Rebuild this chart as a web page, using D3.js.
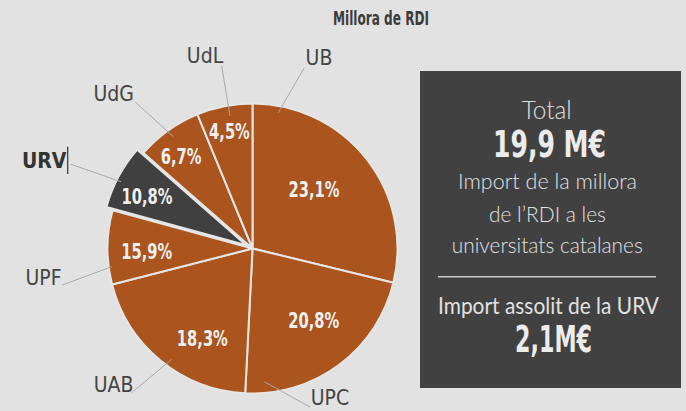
<!DOCTYPE html>
<html>
<head>
<meta charset="utf-8">
<script src="https://cdn.jsdelivr.net/npm/d3@7"></script>
<style>
  html, body { margin: 0; padding: 0; background: #e2e2e2; }
  svg { display: block; }
</style>
</head>
<body>
<svg id="chart" width="686" height="411"></svg>
<script>
// ---------------- data ----------------
const title = "Millora de RDI";
const universities = ["UB", "UPC", "UAB", "UPF", "URV", "UdG", "UdL"];
// slice sizes as drawn in the picture (share of the circle, %)
const sliceShares = [28.8, 22.0, 20.2, 8.25, 7.2, 7.35, 6.2];
// percentages printed on the slices
const printedLabels = ["23,1%", "20,8%", "18,3%", "15,9%", "10,8%", "6,7%", "4,5%"];
const highlighted = "URV";
const panelLines = ["Total", "19,9 M€", "Import de la millora", "de l’RDI a les",
                    "universitats catalanes", "Import assolit de la URV", "2,1M€"];

// ---------------- layout / style ----------------
const W = 686, H = 411;
const cx = 252.5, cy = 248.5, R = 145, explode = 7;
const BROWN = "#ab541d", DARK = "#404040", BG = "#e2e2e2";
const NARROW = "'Liberation Sans Narrow','DejaVu Sans Condensed','Arial Narrow',sans-serif";
const LIGHT = "Lato,'Open Sans',sans-serif";
const PCT_CHAR_W = 10.2; // px per character of the printed percentages

// percentage label placement: radius fraction and angle nudge (deg)
const pctPlace = [
  {rf: 0.590, da: -5.9}, {rf: 0.654, da: -3.5}, {rf: 0.708, da: -10},
  {rf: 0.730, da: -1.9}, {rf: 0.763, da: -2.2}, {rf: 0.803, da: -2.3}, {rf: 0.821, da: 0}
];
// outer name labels (relative to the pie centre): text centre, leader line
const namePlace = {
  UB:  {t: [66.5, -191],  l: [[51.5, -180.2], [25.8, -135.8]]},
  UPC: {t: [77.5, 148.5], l: [[57.5, 158.5], [11.8, 133.2]]},
  UAB: {t: [-139, 135.5], l: [[-120.8, 144.2], [-80.8, 110.8]]},
  UPF: {t: [-209, 29],    l: [[-190.2, 36.5], [-140.8, 18.2]]},
  URV: {t: [-208.3, -88], l: [[-181.5, -84.2], [-131.5, -66.8]]},
  UdG: {t: [-138.8, -155.5], l: [[-117.5, -146.8], [-79.2, -111.8]]},
  UdL: {t: [-47.5, -193.5],  l: [[-30.8, -182.5], [-22.5, -132.5]]}
};
const panelBox = {x: 420, y: 71, w: 261, h: 317};
const panelStyle = [
  {x: 546.7, y: 119.3, size: 25, font: LIGHT, weight: 300, len: 50},
  {x: 549.5, y: 157.3, size: 37, font: NARROW, weight: 700, len: 113},
  {x: 547.5, y: 189.3, size: 21, font: LIGHT, weight: 300, len: 179},
  {x: 547.5, y: 222.3, size: 21, font: LIGHT, weight: 300, len: 117},
  {x: 547.3, y: 252.7, size: 21, font: LIGHT, weight: 300, len: 191},
  {x: 548.5, y: 313.5, size: 23, font: LIGHT, weight: 400, len: 221},
  {x: 553.5, y: 351.5, size: 38, font: NARROW, weight: 700, len: 77}
];

// ---------------- drawing ----------------
const svg = d3.select("#chart");
svg.append("rect").attr("width", W).attr("height", H).attr("fill", BG);

svg.append("text")
  .attr("x", 381).attr("y", 25)
  .attr("text-anchor", "middle")
  .attr("font-family", NARROW).attr("font-weight", 700).attr("font-size", 19)
  .attr("textLength", 96).attr("lengthAdjust", "spacingAndGlyphs")
  .attr("fill", "#3c3c3c")
  .text(title);

const data = universities.map((u, i) => ({name: u, share: sliceShares[i], label: printedLabels[i], i}));
const pie = d3.pie().sort(null).value(d => d.share).startAngle(0).endAngle(2 * Math.PI);
const arcs = pie(data);
const arc = d3.arc().innerRadius(0).outerRadius(R);

const g = svg.append("g").attr("transform", `translate(${cx},${cy})`);

function offset(a) {
  const mid = (a.startAngle + a.endAngle) / 2;
  return a.data.name === highlighted ? [explode * Math.sin(mid), -explode * Math.cos(mid)] : [0, 0];
}

// slices
g.selectAll("path.slice").data(arcs).enter().append("path")
  .attr("class", "slice")
  .attr("transform", d => `translate(${offset(d)})`)
  .attr("d", arc)
  .attr("fill", d => d.data.name === highlighted ? DARK : BROWN)
  .attr("stroke", "#e6e6e6").attr("stroke-width", 2).attr("stroke-linejoin", "round");

// leader lines
arcs.forEach(a => {
  const p = namePlace[a.data.name];
  g.append("line")
    .attr("x1", p.l[0][0]).attr("y1", p.l[0][1])
    .attr("x2", p.l[1][0]).attr("y2", p.l[1][1])
    .attr("stroke", "#a8a8a8").attr("stroke-width", 1);
});

// percentage labels
g.selectAll("text.pct").data(arcs).enter().append("text")
  .attr("class", "pct")
  .attr("transform", d => {
    const pl = pctPlace[d.data.i];
    const ang = (d.startAngle + d.endAngle) / 2 + pl.da * Math.PI / 180;
    const r = R * pl.rf;
    const o = offset(d);
    return `translate(${o[0] + r * Math.sin(ang)},${o[1] - r * Math.cos(ang)})`;
  })
  .attr("dy", "0.36em")
  .attr("text-anchor", "middle")
  .attr("font-family", NARROW).attr("font-weight", 700).attr("font-size", 21)
  .attr("textLength", d => d.data.label.length * PCT_CHAR_W)
  .attr("lengthAdjust", "spacingAndGlyphs")
  .attr("fill", "#f1f1f1")
  .text(d => d.data.label);

// outer name labels
arcs.forEach(a => {
  const p = namePlace[a.data.name];
  const hl = a.data.name === highlighted;
  g.append("text")
    .attr("x", p.t[0]).attr("y", p.t[1]).attr("dy", "0.36em")
    .attr("text-anchor", "middle")
    .attr("font-family", NARROW).attr("font-weight", hl ? 700 : 400).attr("font-size", 21)
    .attr("fill", hl ? "#333" : "#444")
    .text(a.data.name);
  if (hl) {
    g.append("line")
      .attr("x1", p.t[0] + 23.5).attr("x2", p.t[0] + 23.5)
      .attr("y1", p.t[1] - 13.8).attr("y2", p.t[1] + 13.5)
      .attr("stroke", "#333").attr("stroke-width", 1.2);
  }
});

// info panel
svg.append("rect")
  .attr("x", panelBox.x).attr("y", panelBox.y)
  .attr("width", panelBox.w).attr("height", panelBox.h)
  .attr("fill", "#414141");

svg.append("line")
  .attr("x1", 438).attr("x2", 656).attr("y1", 276.7).attr("y2", 276.7)
  .attr("stroke", "#c8c8c8").attr("stroke-width", 1.5);

panelLines.forEach((t, i) => {
  const s = panelStyle[i];
  svg.append("text")
    .attr("x", s.x).attr("y", s.y)
    .attr("text-anchor", "middle")
    .attr("font-family", s.font).attr("font-weight", s.weight).attr("font-size", s.size)
    .attr("textLength", s.len).attr("lengthAdjust", "spacingAndGlyphs")
    .attr("fill", i === 1 || i === 6 ? "#ececec" : "#e2e2e2")
    .text(t);
});
</script>
</body>
</html>
